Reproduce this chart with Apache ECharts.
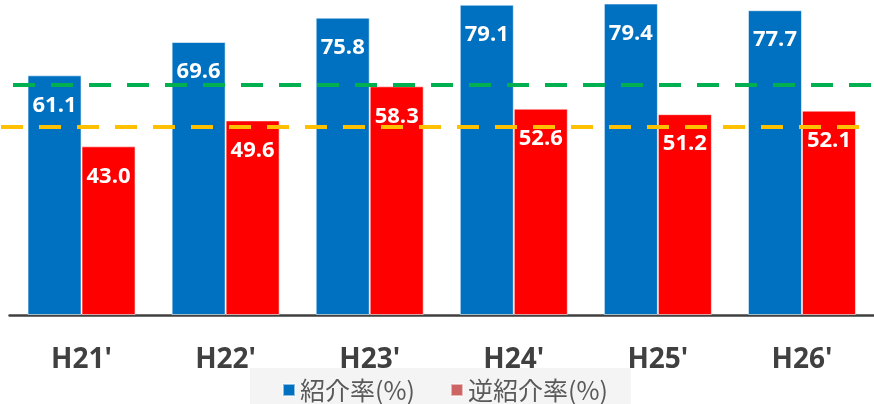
<!DOCTYPE html>
<html>
<head>
<meta charset="utf-8">
<script src="https://cdn.jsdelivr.net/npm/echarts@6/dist/echarts.min.js"></script>
<style>
  html, body { margin: 0; padding: 0; background: #ffffff; }
  #chart { width: 874px; height: 404px; }
</style>
</head>
<body>
<div id="chart"></div>
<script>
// Fiscal years (Heisei era)
const categories = ["H21'", "H22'", "H23'", "H24'", "H25'", "H26'"];
// 紹介率 (%)
const referralRate = [61.1, 69.6, 75.8, 79.1, 79.4, 77.7];
// 逆紹介率 (%)
const reverseReferralRate = [43.0, 49.6, 58.3, 52.6, 51.2, 52.1];
// Target levels drawn as dashed reference lines
const referralTarget = 58.6;
const reverseReferralTarget = 48.0;

const seriesNames = ['紹介率(%)', '逆紹介率(%)'];

const chart = echarts.init(document.getElementById('chart'), null, { renderer: 'canvas' });

const barLabel = {
  show: true,
  position: 'insideTop',
  distance: 19,
  color: '#ffffff',
  fontFamily: 'Open Sans',
  fontWeight: 'bold',
  fontSize: 22,
  lineHeight: 22,
  formatter: p => p.value.toFixed(1)
};

chart.setOption({
  backgroundColor: '#ffffff',
  animation: false,
  grid: { left: 9.5, width: 870, top: 1.2, height: 313.8, containLabel: false },
  xAxis: {
    type: 'category',
    data: categories,
    axisLine: { show: true, lineStyle: { color: '#404040', width: 2.5 } },
    axisTick: { show: false },
    axisLabel: {
      margin: 31,
      color: '#404040',
      fontFamily: 'Open Sans',
      fontWeight: 'bold',
      fontSize: 28,
      lineHeight: 28
    }
  },
  yAxis: {
    type: 'value',
    min: 0,
    max: 80,
    show: false,
    splitLine: { show: false }
  },
  legend: {
    left: 250,
    top: 368,
    padding: [9, 23, 12, 32],
    backgroundColor: '#f4f4f4',
    icon: 'rect',
    itemWidth: 12,
    itemHeight: 12,
    itemGap: 35,
    textStyle: {
      color: '#595959',
      fontFamily: 'Noto Sans CJK JP',
      fontSize: 25,
      lineHeight: 26
    },
    data: [
      { name: seriesNames[0], itemStyle: { color: '#0070c0' } },
      { name: seriesNames[1], itemStyle: { color: '#cd6464' } }
    ]
  },
  series: [
    {
      name: seriesNames[0],
      type: 'bar',
      data: referralRate,
      barWidth: 54,
      barGap: '0%',
      itemStyle: { color: '#0070c0', borderColor: 'rgba(255,255,255,0.55)', borderWidth: 1 },
      label: barLabel
    },
    {
      name: seriesNames[1],
      type: 'bar',
      data: reverseReferralRate,
      barWidth: 54,
      barGap: '0%',
      itemStyle: { color: '#ff0000', borderColor: 'rgba(255,255,255,0.55)', borderWidth: 1 },
      label: barLabel,
      markLine: {
        silent: true,
        symbol: ['none', 'none'],
        label: { show: false },
        z: 10,
        data: [
          [
            { x: 13, yAxis: referralTarget, lineStyle: { color: '#00b050', width: 4, type: [22, 16] } },
            { x: 880, yAxis: referralTarget }
          ],
          [
            { x: 1, yAxis: reverseReferralTarget, lineStyle: { color: '#ffc000', width: 4, type: [22, 16] } },
            { x: 861, yAxis: reverseReferralTarget }
          ]
        ]
      }
    }
  ]
});
</script>
</body>
</html>
